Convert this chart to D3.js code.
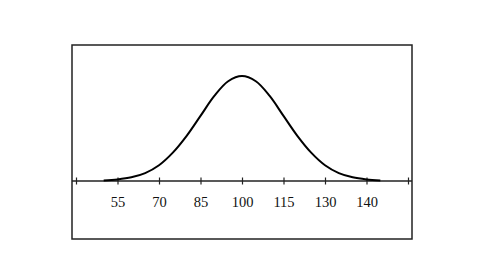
<!DOCTYPE html>
<html>
<head>
<meta charset="utf-8">
<script src="https://cdn.jsdelivr.net/npm/d3@7"></script>
<style>
  html, body { margin: 0; padding: 0; background: #fff; }
  svg { display: block; }
</style>
</head>
<body>
<div id="chart"></div>
<script>
// x values along the curve and their heights (fraction of the peak)
var curveX = [50, 55, 60, 65, 70, 75, 80, 85, 90, 95, 100, 105, 110, 115, 120, 125, 130, 135, 140, 145, 150];
var curveY = [0.005, 0.015, 0.035, 0.075, 0.15, 0.27, 0.43, 0.62, 0.81, 0.95, 1.0, 0.95, 0.81, 0.62, 0.43, 0.27, 0.15, 0.075, 0.035, 0.015, 0.005];

// tick positions and the labels printed under them
var tickValues = [40, 55, 70, 85, 100, 115, 130, 145, 160];
var tickLabels = ['', '55', '70', '85', '100', '115', '130', '140', ''];

var width = 480, height = 270;
var box = { left: 72, top: 45, right: 412, bottom: 239 };
var axisY = 181;

var svg = d3.select('#chart')
    .append('svg')
    .attr('width', width)
    .attr('height', height);

var x = d3.scaleLinear().domain([40, 160]).range([76, 408]);
var y = d3.scaleLinear().domain([0, 1]).range([axisY, 76]);

// frame
svg.append('rect')
    .attr('x', box.left)
    .attr('y', box.top)
    .attr('width', box.right - box.left)
    .attr('height', box.bottom - box.top)
    .attr('fill', 'none')
    .attr('stroke', '#222')
    .attr('stroke-width', 1.5);

// horizontal axis line across the frame
svg.append('line')
    .attr('x1', box.left)
    .attr('x2', box.right)
    .attr('y1', axisY)
    .attr('y2', axisY)
    .attr('stroke', '#222')
    .attr('stroke-width', 1.5);

var axis = d3.axisBottom(x)
    .tickValues(tickValues)
    .tickSizeInner(3)
    .tickSizeOuter(0)
    .tickFormat(function(d, i) { return tickLabels[i]; });

var gAxis = svg.append('g')
    .attr('transform', 'translate(0,' + axisY + ')')
    .call(axis);

gAxis.select('.domain').remove();
gAxis.selectAll('.tick line')
    .attr('y1', -3.5)
    .attr('y2', 3.5)
    .attr('stroke', '#222')
    .attr('stroke-width', 1.2);
gAxis.selectAll('.tick text')
    .attr('y', 25.5)
    .attr('dy', 0)
    .attr('fill', '#111')
    .attr('font-family', '"Liberation Serif", "DejaVu Serif", serif')
    .attr('font-size', '14.5px');

// bell curve
var pts = curveX.map(function(v, i) { return [v, curveY[i]]; });
var line = d3.line()
    .x(function(d) { return x(d[0]); })
    .y(function(d) { return y(d[1]); })
    .curve(d3.curveCatmullRom);

svg.append('path')
    .datum(pts)
    .attr('d', line)
    .attr('fill', 'none')
    .attr('stroke', '#000')
    .attr('stroke-width', 2);
</script>
</body>
</html>
